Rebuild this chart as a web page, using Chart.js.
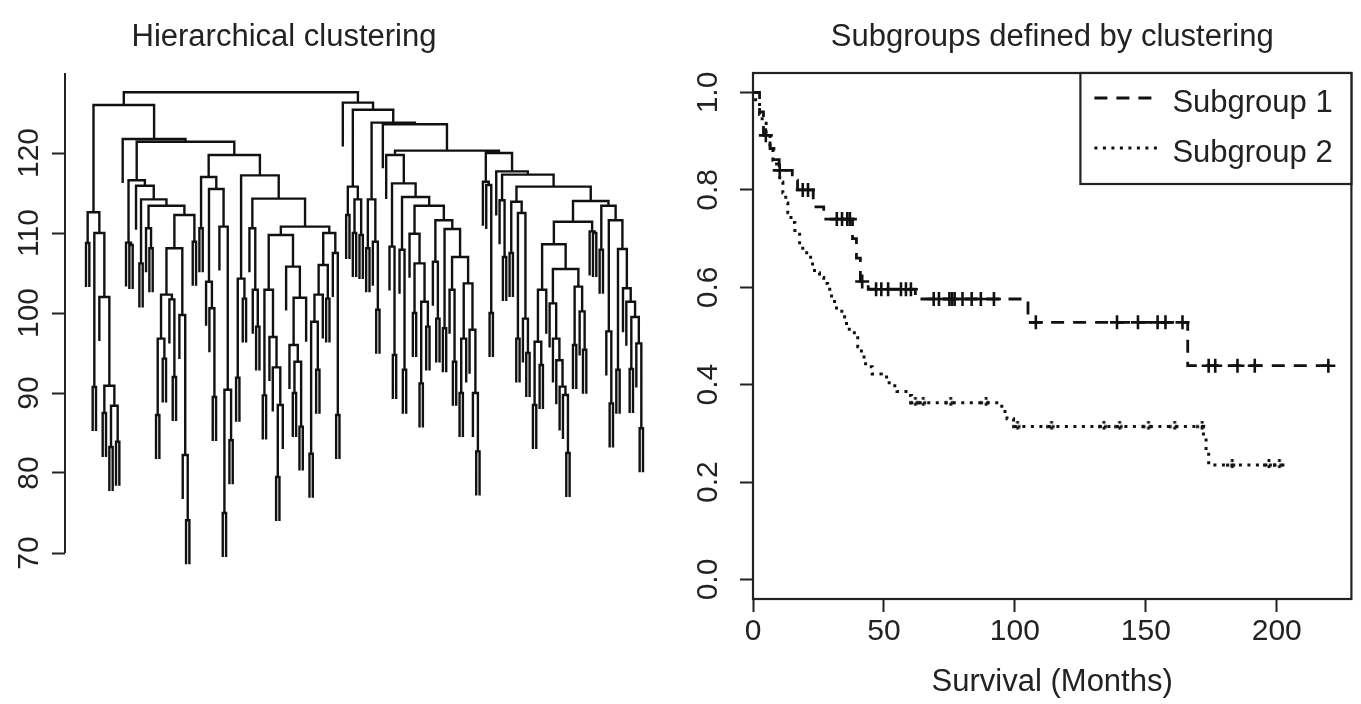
<!DOCTYPE html>
<html>
<head>
<meta charset="utf-8">
<script src="https://cdn.jsdelivr.net/npm/chart.js@4.4.1/dist/chart.umd.min.js"></script>
<style>
  body { margin: 0; background: #fff; }
  #wrap { position: relative; width: 1361px; height: 704px; }
  canvas { position: absolute; top: 0; }
  #treeChart { left: 0; }
  #survChart { left: 680px; }
</style>
</head>
<body>
<div id="wrap">
  <canvas id="treeChart" width="680" height="704"></canvas>
  <canvas id="survChart" width="681" height="704"></canvas>
</div>
<script>
// ---------- left panel: dendrogram ----------
const treeTitle = "Hierarchical clustering";
const treeTicks = [70, 80, 90, 100, 110, 120];
const treeAxisRange = [70, 130];
const leafHang = 5.5;

// node = [merge height, left, right]; 0 is a leaf
const clusterL1 = [112.6, [108.75, 0, 0], [110.0, [90.75, 0, 0], [102.0, 0, [90.9, [87.5, 0, 0], [88.4, [83.25, 0, 0], [83.9, 0, 0]]]]]];

const aDeep = [108.1, [102.3, [96.8, [87.25, 0, 0], [94.3, 0, 0]], [101.7, 0, [92.0, 0, 0]]], [99.75, 0, [82.25, 0, [74.1, 0, 0]]]];
const clusterA = [116.6, [108.8, 0, [108.5, 0, 0]], [115.9, 0, [114.2, [106.2, 0, 0], [113.4, [110.6, 0, [108.1, 0, 0]], [112.25, aDeep, [108.9, 0, 0]]]]]];

const b1 = [117.0, [110.6, 0, 0], [115.5, [103.9, 0, [100.6, 0, [89.5, 0, 0]]], [110.8, 0, [90.4, [75.0, 0, 0], [84.1, 0, 0]]]]];
const b2Left = [109.75, [102.9, [89.7, 0, 0], [97.0, 0, [93.2, 0, [88.5, [79.5, 0, 0], 0]]]], [105.8, 0, [101.9, [96.0, 0, [93.9, [90.0, 0, 0], [85.8, 0, 0]]], 0]]];
const b2Right = [110.0, [106.0, [102.3, [98.9, [82.4, 0, 0], [92.9, 0, 0]], 0], [101.8, 0, 0]], [107.5, 0, [87.25, 0, 0]]];
const b2 = [117.2, [104.3, [91.9, 0, 0], [101.8, 0, 0]], [114.3, [110.6, 0, [102.9, 0, [98.3, 0, 0]]], [110.8, b2Left, b2Right]]];
const clusterB = [119.75, b1, b2];

const clusterR3 = [115.8, [112.25, 0, 0], [114.2, [110.0, 0, 0], [109.75, 0, 0]]];
const clusterR4 = [114.2, [108.1, 0, 0], [108.9, 0, [100.4, 0, 0]]];

const n3Deep = [107.0, [102.9, 0, [93.9, 0, 0]], [103.7, [96.8, [90.0, 0, 0], 0], [97.9, 0, [90.0, 0, [82.7, 0, 0]]]]];
const n3Mid = [111.6, [106.4, 0, [99.3, 0, 0]], [110.5, [98.1, 0, 0], n3Deep]];
const n3Top = [113.4, [109.9, 0, [106.2, [100.0, 0, 0], [101.4, [91.2, 0, 0], [98.3, 0, 0]]]], n3Mid];
const clusterN3 = [119.75, 0, [116.2, [108.3, 0, [94.75, 0, 0]], [114.5, [107.9, 0, [92.9, 0, 0]], n3Top]]];

const n4Chain = [101.2, 0, [96.8, 0, [94.1, 0, [90.8, 0, [89.75, 0, [82.5, 0, 0]]]]]];
const n4J = [108.6, [102.9, [96.4, [88.5, 0, 0], [93.5, 0, 0]], 0], [105.5, n4Chain, [103.3, [96.0, 0, 0], [100.2, 0, [95.4, 0, 0]]]]];
const n4Tail = [108.0, [92.9, 0, 0], [103.1, 0, [101.4, 0, [99.5, [93.0, 0, 0], [96.2, 0, [85.6, 0, 0]]]]]];
const n4G = [114.0, [111.4, n4J, [110.2, 0, [110.0, 0, 0]]], [113.4, [107.9, 0, 0], [111.6, [97.7, 0, [88.7, 0, 0]], n4Tail]]];
const n4E = [115.8, [113.9, [107.5, 0, 0], [112.5, [96.8, 0, 0], [99.3, 0, [95.0, 0, 0]]]], n4G];
const clusterN4 = [120.0, [116.4, 0, [116.0, 0, [100.0, 0, 0]]], [117.7, 0, [117.3, [114.1, 0, [107.0, 0, 0]], n4E]]];

const leftBranch = [126.0, clusterL1, [121.75, 0, [121.4, clusterA, clusterB]]];
const rightBranch = [126.3, 0, [125.4, clusterR3, [123.8, clusterR4, [123.6, 0, [120.3, clusterN3, clusterN4]]]]];
const treeRoot = [127.6, leftBranch, rightBranch];

// ---------- right panel: survival curves ----------
const survTitle = "Subgroups defined by clustering";
const survXLabel = "Survival (Months)";
const survTicksX = [0, 50, 100, 150, 200];
const survTicksY = [0, 0.2, 0.4, 0.6, 0.8, 1.0];

const sg1Label = "Subgroup 1";
const sg1Times = [2.5, 4, 6.5, 8, 10, 15, 17, 23, 27, 38, 39.5, 41, 44, 62, 105, 166];
const sg1Surv = [0.96, 0.912, 0.885, 0.862, 0.84, 0.82, 0.80, 0.765, 0.74, 0.70, 0.66, 0.612, 0.596, 0.576, 0.528, 0.439];
const sg1Censor = [4.9, 10.2, 19, 21, 32, 34, 36, 37, 41.7, 47, 49, 51.6, 56.5, 58.4, 60.3,
  69, 71, 75, 76, 77, 80, 83.5, 87, 92, 108, 139, 147, 154.5, 157.5, 164, 174, 176.5, 185, 191.6, 219.7];
const sg1End = 220;

const sg2Label = "Subgroup 2";
const sg2Times = [1, 2.5, 3.5, 5, 6.5, 7.6, 9, 10.2, 11.4, 12.5, 13.3, 14.5, 16, 17.8, 19, 20.5, 22, 23.5, 25.4, 27,
  28.5, 30, 31.9, 35, 35.7, 38.7, 40, 41.4, 43, 45.5, 49, 52, 55, 59, 60.5, 95, 97, 99.5, 172, 173, 174];
const sg2Surv = [0.98, 0.955, 0.937, 0.91, 0.886, 0.861, 0.84, 0.816, 0.794, 0.773, 0.753, 0.733, 0.712, 0.684, 0.675,
  0.667, 0.648, 0.63, 0.62, 0.608, 0.596, 0.571, 0.551, 0.539, 0.514, 0.50, 0.478, 0.457, 0.437, 0.422, 0.416, 0.398,
  0.386, 0.378, 0.363, 0.345, 0.33, 0.314, 0.29, 0.262, 0.235];
const sg2Censor = [62, 65, 75.5, 89, 101, 114, 134, 140, 151, 161, 171.5, 183, 197, 201];
const sg2End = 203;

// ---------- styling ----------
const fontFamily = '"Liberation Sans", Arial, Helvetica, sans-serif';
const ink = "#222";
Chart.defaults.font.family = fontFamily;
Chart.defaults.color = ink;
Chart.defaults.animation = false;
Chart.defaults.plugins.legend.display = false;
Chart.defaults.plugins.tooltip.enabled = false;

const panelTitle = {
  id: "panelTitle",
  afterDraw(chart, args, opts) {
    const ctx = chart.ctx;
    const a = chart.chartArea;
    ctx.save();
    ctx.font = "31px " + fontFamily;
    ctx.fillStyle = ink;
    ctx.textAlign = "center";
    ctx.textBaseline = "alphabetic";
    const x = opts.x != null ? opts.x : (a.left + a.right) / 2;
    ctx.fillText(opts.text, x, opts.y);
    ctx.restore();
  }
};

// ---------- dendrogram ----------
function buildTree(node, pts, counter) {
  if (node === 0) {
    counter.n += 1;
    return { x: counter.n, leaf: true };
  }
  const h = node[0];
  const ca = buildTree(node[1], pts, counter);
  const cb = buildTree(node[2], pts, counter);
  const ya = ca.leaf ? h - leafHang : ca.h;
  const yb = cb.leaf ? h - leafHang : cb.h;
  pts.push({ x: ca.x, y: ya }, { x: ca.x, y: h }, { x: cb.x, y: h }, { x: cb.x, y: yb }, { x: null, y: null });
  return { x: (ca.x + cb.x) / 2, h: h, leaf: false };
}

const treePoints = [];
const counter = { n: 0 };
buildTree(treeRoot, treePoints, counter);
const leafCount = counter.n;

// first leaf sits at 86px, last at 643px, plot area 65..670
const unit = (643 - 86) / (leafCount - 1);
const treeXMin = 1 - (86 - 65) / unit;
const treeXMax = treeXMin + (670 - 65) / unit;

const treeAxisLine = {
  id: "treeAxisLine",
  afterDraw(chart) {
    const s = chart.scales.y;
    const ctx = chart.ctx;
    ctx.save();
    ctx.strokeStyle = ink;
    ctx.lineWidth = 2;
    ctx.beginPath();
    ctx.moveTo(s.right, s.getPixelForValue(treeAxisRange[0]));
    ctx.lineTo(s.right, s.getPixelForValue(treeAxisRange[1]));
    ctx.stroke();
    ctx.restore();
  }
};

new Chart(document.getElementById("treeChart"), {
  type: "scatter",
  data: {
    datasets: [{
      data: treePoints,
      showLine: true,
      spanGaps: false,
      borderColor: "#111",
      borderWidth: 2.4,
      pointRadius: 0
    }]
  },
  options: {
    responsive: false,
    layout: { padding: { top: 73, right: 10, bottom: 123, left: 0 } },
    scales: {
      x: { type: "linear", display: false, min: treeXMin, max: treeXMax },
      y: {
        min: 66.5, max: 130,
        afterBuildTicks: s => { s.ticks = treeTicks.map(v => ({ value: v })); },
        afterFit: s => { s.width = 65; },
        border: { display: false },
        grid: { drawOnChartArea: false, drawTicks: true, tickLength: 13, tickColor: ink, tickWidth: 2 },
        ticks: { font: { size: 30 }, color: ink, minRotation: 90, maxRotation: 90, crossAlign: "center", padding: -3 }
      }
    },
    plugins: { panelTitle: { text: treeTitle, x: 284, y: 46 } }
  },
  plugins: [panelTitle, treeAxisLine]
});

// ---------- survival curves ----------
function stepData(times, surv, end) {
  const d = [{ x: 0, y: 1 }];
  times.forEach((t, i) => d.push({ x: t, y: surv[i] }));
  d.push({ x: end, y: surv[surv.length - 1] });
  return d;
}

function survivalAt(times, surv, t) {
  let s = 1;
  times.forEach((tt, i) => { if (tt <= t) s = surv[i]; });
  return s;
}

function dottedCross(size) {
  const c = document.createElement("canvas");
  c.width = size; c.height = size;
  const g = c.getContext("2d");
  g.strokeStyle = "#111";
  g.lineWidth = 2.8;
  g.setLineDash([3, 3]);
  g.beginPath();
  g.moveTo(size / 2, 0); g.lineTo(size / 2, size);
  g.moveTo(0, size / 2); g.lineTo(size, size / 2);
  g.stroke();
  return c;
}

const frame = {
  id: "frame",
  afterDraw(chart) {
    const a = chart.chartArea;
    const ctx = chart.ctx;
    ctx.save();
    ctx.strokeStyle = ink;
    ctx.lineWidth = 2.2;
    ctx.strokeRect(a.left, a.top, a.right - a.left, a.bottom - a.top);
    ctx.restore();
  }
};

const legendBox = { width: 271, height: 111, lineX: 14, lineLen: 65, textX: 92, lineY: [25, 75], textY: [39, 89] };

const boxLegend = {
  id: "boxLegend",
  afterDraw(chart) {
    const a = chart.chartArea;
    const ctx = chart.ctx;
    const x0 = a.right - legendBox.width;
    const y0 = a.top;
    ctx.save();
    ctx.fillStyle = "#fff";
    ctx.fillRect(x0, y0, legendBox.width, legendBox.height);
    ctx.strokeStyle = ink;
    ctx.lineWidth = 2.2;
    ctx.strokeRect(x0, y0, legendBox.width, legendBox.height);
    const rows = chart.data.datasets.filter(d => d.legendRow);
    rows.forEach((d, i) => {
      ctx.setLineDash(d.borderDash);
      ctx.lineWidth = d.borderWidth;
      ctx.strokeStyle = d.borderColor;
      ctx.beginPath();
      ctx.moveTo(x0 + legendBox.lineX, y0 + legendBox.lineY[i]);
      ctx.lineTo(x0 + legendBox.lineX + legendBox.lineLen, y0 + legendBox.lineY[i]);
      ctx.stroke();
      ctx.setLineDash([]);
      ctx.font = "31px " + fontFamily;
      ctx.fillStyle = ink;
      ctx.textBaseline = "alphabetic";
      ctx.fillText(d.label, x0 + legendBox.textX, y0 + legendBox.textY[i]);
    });
    ctx.restore();
  }
};

new Chart(document.getElementById("survChart"), {
  type: "line",
  data: {
    datasets: [
      {
        label: sg1Label, legendRow: true,
        data: stepData(sg1Times, sg1Surv, sg1End),
        stepped: "before", borderColor: "#111", borderWidth: 2.8, borderDash: [13, 9],
        pointRadius: 0, fill: false
      },
      {
        label: sg2Label, legendRow: true,
        data: stepData(sg2Times, sg2Surv, sg2End),
        stepped: "before", borderColor: "#111", borderWidth: 3, borderDash: [3, 5.5],
        pointRadius: 0, fill: false
      },
      {
        type: "scatter", label: "censored 1",
        data: sg1Censor.map(t => ({ x: t, y: survivalAt(sg1Times, sg1Surv, t) })),
        pointStyle: "cross", pointRadius: 7, borderColor: "#111", borderWidth: 2.6, showLine: false
      },
      {
        type: "scatter", label: "censored 2",
        data: sg2Censor.map(t => ({ x: t, y: survivalAt(sg2Times, sg2Surv, t) })),
        pointStyle: dottedCross(12), pointRadius: 6, showLine: false
      }
    ]
  },
  options: {
    responsive: false,
    layout: { padding: { top: 73, right: 7, bottom: 0, left: 0 } },
    scales: {
      x: {
        type: "linear", min: 0, max: 228.5,
        afterBuildTicks: s => { s.ticks = survTicksX.map(v => ({ value: v })); },
        afterFit: s => { s.height = 105; },
        border: { display: false },
        grid: { drawOnChartArea: false, drawTicks: true, tickLength: 13, tickColor: ink, tickWidth: 2 },
        ticks: { font: { size: 30 }, color: ink, maxRotation: 0, padding: 2 },
        title: { display: true, text: survXLabel, font: { size: 31 }, color: ink, padding: { top: 0, bottom: 3 } }
      },
      y: {
        min: -0.04, max: 1.04,
        afterBuildTicks: s => { s.ticks = survTicksY.map(v => ({ value: v })); },
        afterFit: s => { s.width = 73; },
        border: { display: false },
        grid: { drawOnChartArea: false, drawTicks: true, tickLength: 13, tickColor: ink, tickWidth: 2 },
        ticks: {
          font: { size: 30 }, color: ink, minRotation: 90, maxRotation: 90, crossAlign: "center", padding: 10,
          callback: v => v.toFixed(1)
        }
      }
    },
    plugins: { panelTitle: { text: survTitle, y: 46 } }
  },
  plugins: [panelTitle, frame, boxLegend]
});
</script>
</body>
</html>
